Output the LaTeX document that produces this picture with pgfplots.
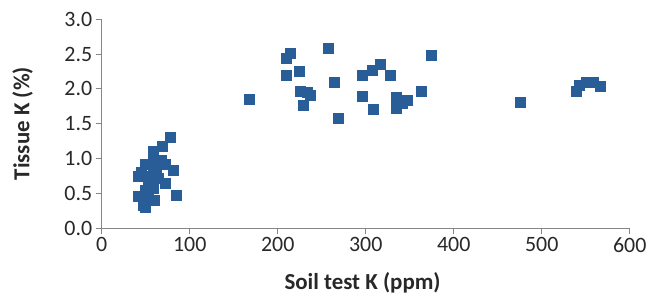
\documentclass[border=0pt]{standalone}
\usepackage{pgfplots}
\pgfplotsset{compat=1.18}
\usepackage{fontspec}
\setmainfont{Carlito}
\definecolor{mk}{RGB}{40,93,152}
\definecolor{axgray}{RGB}{134,134,134}
\definecolor{txt}{RGB}{40,40,40}
\begin{document}
\begin{tikzpicture}
\useasboundingbox (-101.7bp,-69bp) rectangle (556.3bp,228bp);
\begin{axis}[
  scale only axis,
  width=528bp, height=208.7bp,
  xmin=0, xmax=600, ymin=0, ymax=3,
  axis x line=bottom, axis y line=left,
  axis line style={-, axgray, line width=1bp},
  xtick={0,100,...,600},
  ytick={0,0.5,1,1.5,2,2.5,3},
  tick align=outside,
  major tick length=6bp,
  tick style={axgray, line width=1bp},
  /pgf/number format/assume math mode=true,
  yticklabel style={/pgf/number format/fixed, /pgf/number format/fixed zerofill, /pgf/number format/precision=1},
  ticklabel style={font=\fontsize{22}{26}\selectfont, text=txt},
  xlabel={Soil test K (ppm)},
  ylabel={Tissue K (\%)},
  xlabel style={font=\fontsize{23}{27}\selectfont\bfseries, text=txt, at={(axis description cs:0.494,-0.297)}, anchor=base},
  ylabel style={font=\fontsize{23}{27}\selectfont\bfseries, text=txt, at={(axis description cs:-0.15,0.5)}, anchor=center},
  clip=false,
]
\addplot[only marks, mark=square*, mark size=5bp, mark options={fill=mk, draw=mk}] coordinates {
(77.6,1.30) (68.9,1.18) (58.7,1.10) (58.7,0.98) (49.2,0.91) (41.6,0.74)
(72,0.91) (81.4,0.83) (58.7,0.81) (64.3,0.71) (53,0.67) (72,0.64)
(58.7,0.57) (85.2,0.47) (41.6,0.45) (53,0.43) (47.3,0.33) (68,0.98) (49,0.55)
(62,0.88) (55,0.75) (50,0.30) (60,0.40) (45,0.80)
(168,1.85) (214,2.51) (210,2.44) (210,2.20) (225,2.25) (257,2.59) (264,2.09)
(226,1.97) (237.5,1.91) (233,1.95) (229,1.77) (269,1.58) (295.5,2.19) (307,2.27)
(316,2.35) (327.6,2.19) (295.5,1.89) (308.7,1.71) (335,1.88) (335,1.72)
(341,1.80) (347,1.84) (363,1.96) (374,2.48) (476,1.81)
(539,1.97) (543,2.05) (551,2.10) (558,2.10) (566,2.04)
};
\end{axis}
\end{tikzpicture}
\end{document}
